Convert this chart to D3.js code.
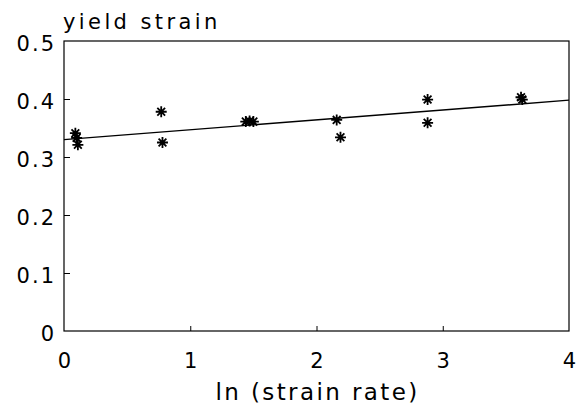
<!DOCTYPE html>
<html>
<head>
<meta charset="utf-8">
<script src="https://cdn.jsdelivr.net/npm/d3@7"></script>
<style>
  body { margin: 0; background: #fff; }
  text { font-family: "DejaVu Sans", sans-serif; fill: #000; }
</style>
</head>
<body>
<div id="chart"></div>
<script>
// measured points (ln strain rate, yield strain)
var lnRate = [0.09, 0.10, 0.11, 0.77, 0.78, 1.44, 1.47, 1.50, 2.16, 2.19, 2.88, 2.88, 3.62, 3.63];
var yieldStrain = [0.341, 0.333, 0.321, 0.378, 0.325, 0.361, 0.362, 0.361, 0.364, 0.334, 0.399, 0.359, 0.403, 0.399];

// fitted line end points
var fitX = [0, 4];
var fitY = [0.330, 0.398];

var xTicks = [0, 1, 2, 3, 4];
var yTicks = [0, 0.1, 0.2, 0.3, 0.4, 0.5];

var svg = d3.select("#chart")
  .append("svg")
  .attr("width", 581)
  .attr("height", 405);

var margin = {top: 41, right: 12, bottom: 74, left: 64};
var width = 581 - margin.left - margin.right,
    height = 405 - margin.top - margin.bottom;

var g = svg.append("g")
  .attr("transform", "translate(" + margin.left + "," + margin.top + ")");

var x = d3.scaleLinear().domain([0, 4]).range([0, width]);
var y = d3.scaleLinear().domain([0, 0.5]).range([height, 0]);

// frame
g.append("rect")
  .attr("width", width)
  .attr("height", height)
  .attr("fill", "none")
  .attr("stroke", "#000")
  .attr("stroke-width", 1.2);

var xAxis = g.append("g")
  .attr("transform", "translate(0," + height + ")")
  .call(d3.axisBottom(x).tickValues(xTicks).tickSize(-5).tickPadding(22).tickFormat(d3.format("d")));

var yAxis = g.append("g")
  .call(d3.axisLeft(y).tickValues(yTicks).tickSize(-6).tickPadding(8).tickFormat(function(d) { return d === 0 ? "0" : d3.format(".1f")(d); }));

[xAxis, yAxis].forEach(function(ax) {
  ax.select(".domain").remove();
  ax.selectAll(".tick line").attr("stroke", "#000").attr("stroke-width", 1);
  ax.selectAll(".tick text")
    .style("font-size", "21px")
    .style("letter-spacing", "2px")
    .style("font-family", "\"DejaVu Sans\", sans-serif")
    .style("fill", "#000");
});
xAxis.selectAll(".tick text").attr("dx", "1px");
yAxis.selectAll(".tick text").attr("dy", "0.45em");
xAxis.selectAll(".tick").filter(function(d) { return d === 0 || d === 4; }).select("line").remove();
yAxis.selectAll(".tick").filter(function(d) { return d === 0 || d === 0.5; }).select("line").remove();

// fit line
g.append("line")
  .attr("x1", x(fitX[0])).attr("y1", y(fitY[0]))
  .attr("x2", x(fitX[1])).attr("y2", y(fitY[1]))
  .attr("stroke", "#000")
  .attr("stroke-width", 1.4);

// asterisk markers
var star = function(r) {
  var p = "";
  for (var i = 0; i < 4; i++) {
    var a = i * Math.PI / 4;
    var dx = r * Math.sin(a), dy = r * Math.cos(a);
    p += "M" + (-dx) + "," + (-dy) + "L" + dx + "," + dy;
  }
  return p;
};

g.selectAll("path.pt")
  .data(lnRate.map(function(d, i) { return [d, yieldStrain[i]]; }))
  .enter().append("path")
  .attr("class", "pt")
  .attr("transform", function(d) { return "translate(" + x(d[0]) + "," + y(d[1]) + ")"; })
  .attr("d", star(5.5))
  .attr("stroke", "#000")
  .attr("stroke-width", 1.8);

// titles
svg.append("text")
  .attr("x", 63)
  .attr("y", 29)
  .style("font-size", "21px")
  .style("letter-spacing", "3.4px")
  .text("yield strain");

svg.append("text")
  .attr("x", margin.left + width / 2 + 1)
  .attr("y", 400)
  .attr("text-anchor", "middle")
  .style("font-size", "23px")
  .style("letter-spacing", "2.4px")
  .text("ln (strain rate)");
</script>
</body>
</html>
